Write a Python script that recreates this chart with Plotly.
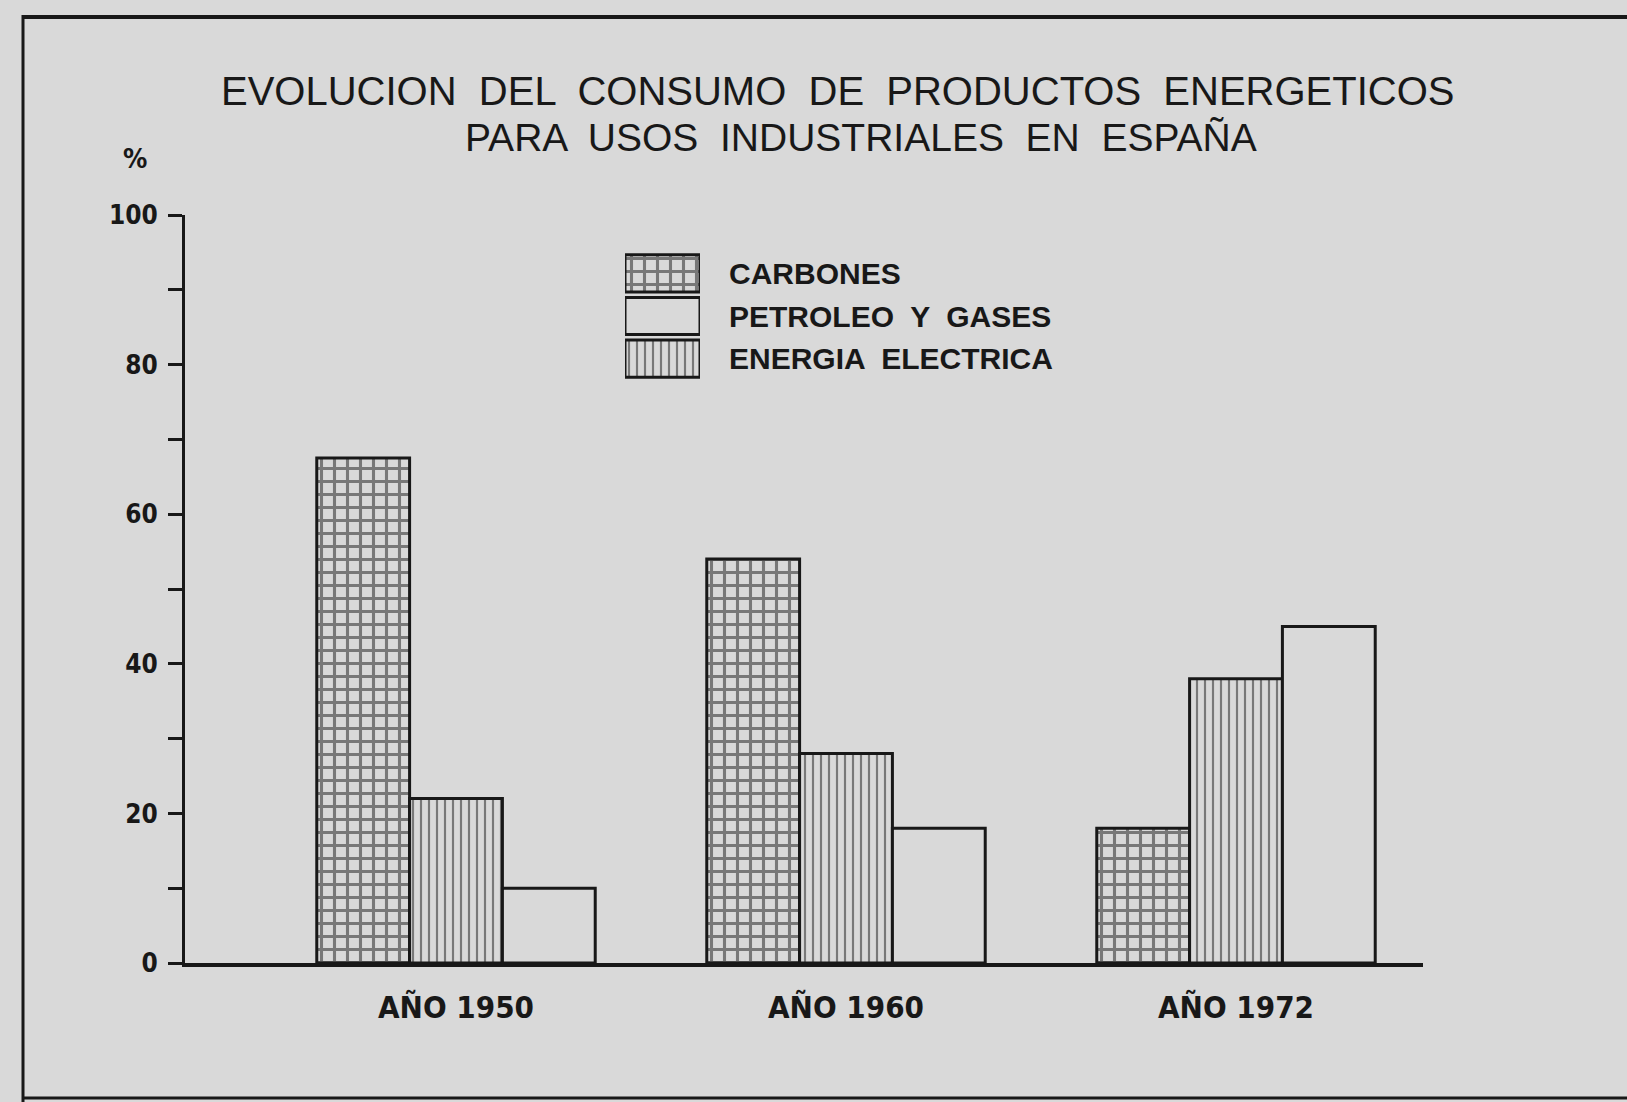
import plotly.graph_objects as go

# ---------------- data ----------------
years = ["AÑO 1950", "AÑO 1960", "AÑO 1972"]
carbones = [67.5, 54, 18]
energia_electrica = [22, 28, 38]
petroleo_gases = [10, 18, 45]

legend_labels = ["CARBONES", "PETROLEO  Y  GASES", "ENERGIA  ELECTRICA"]
legend_swatch = [1, 1, 1]

y_tickvals = [0, 20, 40, 60, 80, 100]
y_ticktext = ["0", "20", "40", "60", "80", "100"]

title_line1 = "EVOLUCION  DEL  CONSUMO  DE  PRODUCTOS  ENERGETICOS"
title_line2 = "PARA  USOS  INDUSTRIALES  EN  ESPAÑA"

# ---------------- style ----------------
W, H = 1627, 1102
L, R, T, B = 185, 1423, 215, 963
BG = "#d9d9d9"
INK = "#181818"
NARROW = "Liberation Sans Narrow, DejaVu Sans Condensed, Arial Narrow, sans-serif"
SANS = "Liberation Sans, Arial, sans-serif"


def px_x(X):
    return (X - L) / (R - L)


def px_y(Y):
    return (B - Y) / (B - T)


grid_pat = dict(shape="+", size=13, solidity=0.42, fgcolor=INK, bgcolor=BG, fillmode="overlay")
vline_pat = dict(shape="|", size=8, solidity=0.27, fgcolor=INK, bgcolor=BG, fillmode="overlay")
blank_pat = dict(shape="", fgcolor=INK, bgcolor=BG)

fig = go.Figure()

series = [
    ("CARBONES", carbones, grid_pat),
    ("ENERGIA ELECTRICA", energia_electrica, vline_pat),
    ("PETROLEO Y GASES", petroleo_gases, blank_pat),
]
for name, vals, pat in series:
    fig.add_trace(go.Bar(
        x=list(range(len(years))), y=vals, name=name,
        marker=dict(color=BG, pattern=pat, line=dict(color=INK, width=3)),
        showlegend=False, hoverinfo="skip",
    ))

# custom legend drawn as a small subplot
legend_pats = [grid_pat, blank_pat, vline_pat]
for i, (lab, pat) in enumerate(zip(legend_labels, legend_pats)):
    fig.add_trace(go.Bar(
        x=[legend_swatch[i]], y=[lab], orientation="h",
        xaxis="x2", yaxis="y2", width=0.87,
        marker=dict(color=BG, pattern=pat, line=dict(color=INK, width=3)),
        showlegend=False, hoverinfo="skip",
    ))

fig.update_layout(
    width=W, height=H,
    margin=dict(l=L, r=W - R, t=T, b=H - B),
    paper_bgcolor=BG, plot_bgcolor=BG,
    barmode="group", bargap=0.286, bargroupgap=0,
    xaxis=dict(
        range=[-(456 - L) / 390, 2 + (R - 1236) / 390],
        tickvals=list(range(len(years))), ticktext=years,
        showline=True, linecolor=INK, linewidth=4,
        showgrid=False, zeroline=False, ticks="", ticklabelstandoff=14,
        tickfont=dict(family=NARROW, size=31, color=INK, weight="bold"),
    ),
    yaxis=dict(
        range=[0, 100], tickvals=y_tickvals, ticktext=y_ticktext,
        showline=True, linecolor=INK, linewidth=3,
        ticks="outside", ticklen=14, tickwidth=3, tickcolor=INK,
        minor=dict(dtick=10, ticks="outside", ticklen=14, tickwidth=3, tickcolor=INK, showgrid=False),
        showgrid=False, zeroline=False, ticklabelstandoff=5,
        tickfont=dict(family=NARROW, size=26, color=INK, weight="bold"),
    ),
    xaxis2=dict(
        domain=[px_x(625), px_x(700)], anchor="y2", range=[0, 1],
        visible=False, fixedrange=True,
    ),
    yaxis2=dict(
        domain=[px_y(380), px_y(252)], anchor="x2", side="right",
        type="category", categoryorder="array", categoryarray=legend_labels[::-1],
        showline=False, showgrid=False, zeroline=False, ticks="",
        ticklabelstandoff=28,
        tickfont=dict(family=SANS, size=30, color=INK, weight="bold"),
    ),
    annotations=[
        dict(text=title_line1, xref="paper", yref="paper", x=px_x(838), y=px_y(91),
             xanchor="center", yanchor="middle", showarrow=False,
             font=dict(family=SANS, size=40, color=INK)),
        dict(text=title_line2, xref="paper", yref="paper", x=px_x(861), y=px_y(138),
             xanchor="center", yanchor="middle", showarrow=False,
             font=dict(family=SANS, size=39, color=INK)),
        dict(text="%", xref="paper", yref="paper", x=px_x(135), y=px_y(158),
             xanchor="center", yanchor="middle", showarrow=False,
             font=dict(family=NARROW, size=27, color=INK, weight="bold")),
    ],
    shapes=[
        dict(type="line", xref="paper", yref="paper", x0=px_x(23), x1=px_x(1640),
             y0=px_y(17), y1=px_y(17), line=dict(color=INK, width=4)),
        dict(type="line", xref="paper", yref="paper", x0=px_x(23), x1=px_x(23),
             y0=px_y(15), y1=px_y(1110), line=dict(color=INK, width=3)),
        dict(type="line", xref="paper", yref="paper", x0=px_x(23), x1=px_x(1640),
             y0=px_y(1098), y1=px_y(1098), line=dict(color=INK, width=3)),
    ],
)

fig.write_html(
    "out.html",
    config={"displayModeBar": False},
    post_script="document.body.style.margin='0';document.body.style.overflow='hidden';",
)
